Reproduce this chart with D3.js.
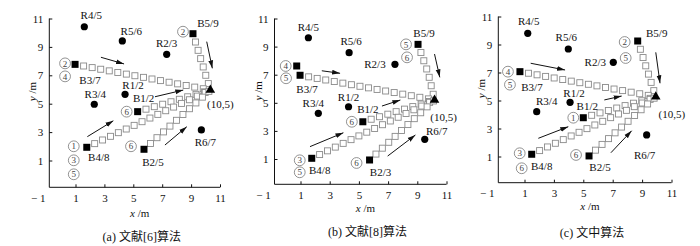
<!DOCTYPE html>
<html lang="zh">
<head>
<meta charset="UTF-8">
<title>任务分配轨迹</title>
<script src="https://d3js.org/d3.v7.min.js"></script>
<style>
  body { margin: 0; background: #fff; }
  text { font-family: "Liberation Serif", "Times New Roman", "Noto Sans CJK SC", serif; }
</style>
</head>
<body>
<script>
const width = 700, height = 246;

// tick values shared by all panels
const ticks = [1, 3, 5, 7, 9, 11];

// ---- (a) 文献[6]算法 ----
const rewardsA = [["R4/5",1.61,10.42],["R5/6",4.24,9.42],["R2/3",7.31,8.48],["R1/2",4.43,5.66],["R3/4",2.30,4.96],["R6/7",9.71,3.15]];
const robotsA  = [["B5/9",9.13,9.93],["B3/7",0.97,7.77],["B1/2",5.30,4.44],["B4/8",1.78,1.93],["B2/5",5.74,1.79]];
const targetA  = [10.33, 5.96];
const routesA  = [[0, []], [1, []], [2, []], [3, []], [4, []]];   // robot index, via points
const badgesA  = [[0,2],[1,2],[1,4],[2,6],[3,1],[3,3],[3,5],[4,6]];
const arrowsA  = [[[2.76,8.27],[4.36,7.80]], [[10.08,9.37],[10.47,7.49]], [[6.50,5.49],[8.46,5.96]], [[1.82,2.68],[3.62,3.80]], [[7.19,2.09],[8.70,3.38]]];

// ---- (b) 文献[8]算法 ----
const rewardsB = [["R4/5",1.54,9.63],["R5/6",4.33,8.57],["R2/3",7.47,7.74],["R1/2",4.29,4.72],["R3/4",2.22,4.25],["R6/7",9.51,2.40]];
const robotsB  = [["B5/9",9.05,9.16],["",0.74,7.62],["B3/7",0.97,6.96],["B1/2",5.27,3.65],["B4/8",1.77,1.05],["B2/3",5.73,0.93]];
const targetB  = [10.18, 5.20];
const routesB  = [[0, [[9.75,7.1]]], [2, []], [3, []], [4, []], [5, []]];
const badgesB  = [[0,5],[0,6],[1,4],[2,5],[3,6],[4,3],[4,5],[5,6]];
const arrowsB  = [[[2.46,7.28],[3.71,7.10]], [[10.18,8.47],[10.54,6.81]], [[6.58,4.77],[7.84,5.20]], [[1.65,1.88],[3.94,2.87]], [[6.97,1.21],[8.87,2.71]]];

// ---- (c) 文中算法 ----
const rewardsC = [["R4/5",1.22,9.80],["R5/6",3.98,8.68],["R2/3",7.04,7.73],["R1/2",4.10,4.87],["R3/4",1.83,4.20],["R6/7",9.31,2.54]];
const robotsC  = [["B5/9",8.70,9.25],["B3/7",0.69,7.06],["B1/2",5.00,3.77],["B4/8",1.49,1.16],["B2/5",5.39,1.04]];
const targetC  = [9.93, 5.27];
const routesC  = [[0, []], [1, []], [2, []], [3, []], [4, []]];
const badgesC  = [[0,2],[0,5],[1,4],[1,5],[2,1],[3,3],[3,6],[4,6]];
const arrowsC  = [[[1.42,7.66],[3.76,7.18]], [[9.93,8.44],[10.22,6.23]], [[6.43,5.04],[7.61,5.32]], [[1.94,2.30],[3.98,3.13]], [[6.88,1.27],[8.29,2.84]]];

// ---- layout (pixels) ----
const frames = [
  {x1: 75.5, x11: 220,   y1: 160.5, y11: 18.5, ax: 49.3,  ay: 187.3, xl: 217, cap: 237},
  {x1: 300.5, x11: 446.5, y1: 159,  y11: 18.5, ax: 274.5, ay: 184.3, xl: 212, cap: 232},
  {x1: 524.5, x11: 671.5, y1: 156.5, y11: 16.5, ax: 498.3, ay: 182.7, xl: 210, cap: 233}
];
const captions = ["(a) 文献[6]算法", "(b) 文献[8]算法", "(c) 文中算法"];

// label offsets from their marker, by panel
const rewardLabelOff = [
  [[7,-12],[9,-10],[0,-11],[8,-9],[1,-10],[4,12]],
  [[0,-11],[2,-11],[-20,0],[0,-10],[-5,-10],[12,-8]],
  [[1,-12],[-2,-12],[-18,0],[4,-9],[10,-11],[-2,20]]
];
const robotLabelOff = [
  [[15,-11],[15,16],[6,-14],[12,10],[9,13]],
  [[6,-11],[0,0],[7,14],[5,-13],[8,12],[11,12]],
  [[19,-8],[12,15],[4,-12],[10,12],[11,11]]
];
const targetLabelOff = [[10,14], [9,17], [16,17]];
const badgeOff = [
  [[-10,-2],[-10,-1],[-10,12],[-11,0],[-13,-1],[-13,13],[-13,27],[-13,-3]],
  [[-12,0],[-11,13],[-11,0],[-14,3],[-11,0],[-12,2],[-12,14],[-13,3]],
  [[-13,1],[-12,17],[-12,0],[-10,13],[-10,0],[-12,-1],[-10,14],[-13,-1]]
];

const panels = [
  {rewards: rewardsA, robots: robotsA, target: targetA, routes: routesA, badges: badgesA, arrows: arrowsA},
  {rewards: rewardsB, robots: robotsB, target: targetB, routes: routesB, badges: badgesB, arrows: arrowsB},
  {rewards: rewardsC, robots: robotsC, target: targetC, routes: routesC, badges: badgesC, arrows: arrowsC}
];

const svg = d3.select("body").append("svg")
    .attr("width", width).attr("height", height);

svg.append("defs").append("marker")
    .attr("id", "arrow")
    .attr("markerUnits", "userSpaceOnUse")
    .attr("viewBox", "0 0 8 6")
    .attr("refX", 8).attr("refY", 3)
    .attr("markerWidth", 8).attr("markerHeight", 6)
    .attr("orient", "auto")
  .append("path")
    .attr("d", "M0,0.6L8,3L0,5.4Z")
    .attr("fill", "#111");

const step = 8.7;   // spacing of the hollow squares along a route

panels.forEach((p, i) => drawPanel(p, frames[i], captions[i], i));

function drawPanel(p, f, caption, k) {
    const x = d3.scaleLinear().domain([1, 11]).range([f.x1, f.x11]);
    const y = d3.scaleLinear().domain([1, 11]).range([f.y1, f.y11]);
    const g = svg.append("g");

    // axes
    g.append("line").attr("x1", f.ax).attr("x2", f.ax).attr("y1", f.ay).attr("y2", y(11))
        .attr("stroke", "#111");
    g.append("line").attr("x1", f.ax).attr("x2", x(11)).attr("y1", f.ay).attr("y2", f.ay)
        .attr("stroke", "#111");

    g.append("g").attr("transform", `translate(${f.ax},0)`)
        .call(d3.axisLeft(y).tickValues(ticks).tickSize(-3).tickPadding(6))
        .call(a => a.select(".domain").remove())
        .call(a => a.selectAll("line").attr("stroke", "#111"))
        .call(a => a.selectAll("text").attr("font-family", "Liberation Serif").attr("font-size", 11).attr("fill", "#111"));

    g.append("g").attr("transform", `translate(0,${f.ay})`)
        .call(d3.axisBottom(x).tickValues(ticks).tickSize(-3).tickPadding(7))
        .call(a => a.select(".domain").remove())
        .call(a => a.selectAll("line").attr("stroke", "#111"))
        .call(a => a.selectAll("text").attr("font-family", "Liberation Serif").attr("font-size", 11).attr("fill", "#111"));

    g.append("text").attr("x", f.ax - 11).attr("y", f.ay + 14.5)
        .attr("text-anchor", "middle").attr("font-size", 11).attr("fill", "#111")
        .text("− 1");

    const xl = g.append("text").attr("x", (f.x1 + f.x11) / 2 - 8).attr("y", f.xl)
        .attr("text-anchor", "middle").attr("font-size", 11).attr("fill", "#111");
    xl.append("tspan").attr("font-style", "italic").text("x");
    xl.append("tspan").text(" /m");

    const yl = g.append("text")
        .attr("transform", `translate(${f.ax - 13},${(f.y1 + f.y11) / 2 + 2}) rotate(-90)`)
        .attr("text-anchor", "middle").attr("font-size", 11).attr("fill", "#111");
    yl.append("tspan").attr("font-style", "italic").text("y");
    yl.append("tspan").text(" /m");

    g.append("text").attr("x", (f.x1 + f.x11) / 2 - 6).attr("y", f.cap + 4)
        .attr("text-anchor", "middle").attr("font-size", 12).attr("fill", "#111")
        .text(caption);

    // routes: hollow squares along each robot's trajectory to the target
    const line = d3.line().x(d => x(d[0])).y(d => y(d[1]));
    p.routes.forEach(([ri, via]) => {
        const r = p.robots[ri];
        const pts = [[r[1], r[2]], ...via, p.target];
        const path = g.append("path").attr("d", line(pts)).attr("fill", "none").attr("stroke", "none");
        const node = path.node();
        const len = node.getTotalLength();
        for (let s = step; s <= len + 1; s += step) {
            const pt = node.getPointAtLength(Math.min(s, len));
            g.append("rect")
                .attr("x", pt.x - 3).attr("y", pt.y - 3)
                .attr("width", 6).attr("height", 6)
                .attr("fill", "#fff").attr("stroke", "#8a8a8a").attr("stroke-width", 0.9);
        }
    });

    // arrows
    p.arrows.forEach(a => {
        g.append("line")
            .attr("x1", x(a[0][0])).attr("y1", y(a[0][1]))
            .attr("x2", x(a[1][0])).attr("y2", y(a[1][1]))
            .attr("stroke", "#111").attr("stroke-width", 1)
            .attr("marker-end", "url(#arrow)");
    });

    // reward points
    g.selectAll("circle.reward").data(p.rewards).join("circle")
        .attr("class", "reward")
        .attr("cx", d => x(d[1])).attr("cy", d => y(d[2])).attr("r", 3.6)
        .attr("fill", "#000");
    g.selectAll("text.reward").data(p.rewards).join("text")
        .attr("class", "reward")
        .attr("x", (d, i) => x(d[1]) + rewardLabelOff[k][i][0])
        .attr("y", (d, i) => y(d[2]) + rewardLabelOff[k][i][1])
        .attr("dy", "0.35em")
        .attr("text-anchor", "middle").attr("font-size", 11).attr("fill", "#111")
        .text(d => d[0]);

    // robots
    g.selectAll("rect.robot").data(p.robots).join("rect")
        .attr("class", "robot")
        .attr("x", d => x(d[1]) - 3.5).attr("y", d => y(d[2]) - 3.5)
        .attr("width", 7).attr("height", 7)
        .attr("fill", "#000");
    g.selectAll("text.robot").data(p.robots).join("text")
        .attr("class", "robot")
        .attr("x", (d, i) => x(d[1]) + robotLabelOff[k][i][0])
        .attr("y", (d, i) => y(d[2]) + robotLabelOff[k][i][1])
        .attr("dy", "0.35em")
        .attr("text-anchor", "middle").attr("font-size", 11).attr("fill", "#111")
        .text(d => d[0]);

    // target
    g.append("path")
        .attr("d", d3.symbol(d3.symbolTriangle, 40)())
        .attr("transform", `translate(${x(p.target[0])},${y(p.target[1])})`)
        .attr("fill", "#000");
    g.append("text")
        .attr("x", x(p.target[0]) + targetLabelOff[k][0])
        .attr("y", y(p.target[1]) + targetLabelOff[k][1])
        .attr("dy", "0.35em")
        .attr("text-anchor", "middle").attr("font-size", 11).attr("fill", "#111")
        .text("(10,5)");

    // circled task numbers
    p.badges.forEach(([ri, n], j) => {
        const r = p.robots[ri];
        const cx = x(r[1]) + badgeOff[k][j][0];
        const cy = y(r[2]) + badgeOff[k][j][1];
        g.append("circle").attr("cx", cx).attr("cy", cy).attr("r", 5.4)
            .attr("fill", "#fff").attr("stroke", "#777").attr("stroke-width", 0.8);
        g.append("text").attr("x", cx).attr("y", cy).attr("dy", "0.35em")
            .attr("text-anchor", "middle").attr("font-size", 9).attr("fill", "#444")
            .text(n);
    });
}
</script>
</body>
</html>
